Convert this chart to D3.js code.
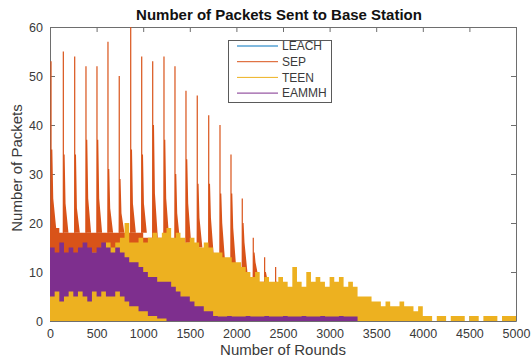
<!DOCTYPE html>
<html>
<head>
<meta charset="utf-8">
<script src="https://cdn.jsdelivr.net/npm/d3@7"></script>
<style>
  body { margin: 0; background: #fff; }
  text { font-family: "Liberation Sans", Arial, sans-serif; }
</style>
</head>
<body>
<script>
const w = 532;
const h = 363;

const plotLeft = 50;
const plotRight = 516;
const plotTop = 27;
const plotBottom = 321;

// rounds per bin of the envelope arrays below (dense per-round lines are shown as min/max bands)
const binRounds = 50;
const sepBinRounds = 100;

const xTickValues = [0, 500, 1000, 1500, 2000, 2500, 3000, 3500, 4000, 4500, 5000];
const yTickValues = [0, 10, 20, 30, 40, 50, 60];

const seriesNames = ["LEACH", "SEP", "TEEN", "EAMMH"];
const seriesColors = ["#0072BD", "#D95319", "#EDB120", "#7E2F8E"];

// LEACH (0 - 800 rounds), mostly hidden under the others
const leachHigh = [17, 16, 15, 16, 15, 16, 15, 16, 15, 15, 18, 16, 15, 16, 15, 14];
const leachLow = [6, 6, 5, 6, 6, 5, 6, 6, 5, 6, 6, 5, 6, 6, 5, 6];

// SEP band between the epoch spikes (100-round bins, 0 - 2600)
const sepHigh = [19, 18, 18, 18, 18, 18, 18, 18, 18, 18, 17, 17, 17, 16, 16, 15, 14, 13, 12, 11, 10, 9, 8, 7, 6, 5];
const sepLow = [10, 10, 10, 10, 10, 10, 10, 9, 9, 9, 8, 8, 8, 7, 7, 6, 6, 5, 5, 4, 4, 3, 3, 2, 2, 1];

// SEP spikes at the start of each epoch, with the decaying values right after them
const spikeRounds = [11, 143, 265, 386, 504, 622, 743, 866, 984, 1102, 1223, 1341, 1459, 1580, 1703, 1824, 1942, 2063, 2181, 2303, 2421];
const spikeTop = [53, 55, 54, 52, 52, 57, 50, 62, 54, 53, 54, 52, 47, 46, 42, 40, 34, 25, 17, 13, 11];
const spikeMid = [35, 34, 34, 37, 37, 31, 29, 35, 34, 40, 37, 30, 33, 28, 28, 26, 26, 20, 14, 10, 8];
const spikeTail = [25, 24, 23, 25, 25, 23, 22, 24, 24, 26, 25, 22, 24, 21, 21, 20, 19, 16, 12, 9, 7];

// TEEN upper envelope (50-round bins, 0 - 5000); it drops to 0 inside every bin
const teenHigh = [
  11, 12, 10, 12, 11, 13, 12, 12, 13, 14, 13, 15, 16, 15, 16, 17,
  20, 16, 16, 17, 16, 17, 18, 17, 18, 19, 17, 18, 17, 16, 17, 16, 15, 16,
  15, 14, 14, 13, 13, 12, 12, 11,
  10, 9, 10, 8, 9, 8, 8, 9,
  8, 7, 11, 8, 7, 10, 8, 9, 8, 7,
  9, 8, 9, 7, 8, 7, 5, 5, 5, 4,
  4, 3, 4, 3, 3, 4, 3, 3, 2, 3,
  1, 1, 0, 1, 1, 0, 1, 1, 1, 0, 1, 1, 0, 1, 1, 1, 0, 1, 1, 1
];

// EAMMH envelope (50-round bins, 0 - 3300)
const eammhHigh = [
  15, 14, 16, 14, 15, 14, 15, 16, 15, 14, 15, 16, 15, 14, 15, 14,
  13, 12, 12, 11, 10, 9, 9, 8, 8, 8, 7, 6, 5, 5, 4, 3, 3, 2,
  2, 1, 0.9, 0.9, 1, 0.9, 0.9, 0.9, 1, 0.9, 0.9, 0.9, 1, 0.9, 0.9, 0.9,
  1, 0.9, 0.9, 0.9, 1, 0.9, 0.9, 0.9, 1, 0.9, 0.9, 0.9, 1, 0.9, 0.9, 0.9
];
const eammhLow = [
  5, 6, 4, 5, 6, 5, 6, 5, 4, 6, 5, 6, 5, 5, 6, 5,
  4, 3, 3, 2, 2, 1, 1, 0.5, 0.5, 0, 0, 0, 0, 0, 0, 0, 0, 0,
  0, 0, 0, 0, 0, 0, 0, 0, 0, 0, 0, 0, 0, 0, 0, 0,
  0, 0, 0, 0, 0, 0, 0, 0, 0, 0, 0, 0, 0, 0, 0, 0
];

const svg = d3.select("body").append("svg").attr("width", w).attr("height", h);

const xScale = d3.scaleLinear().domain([0, 5000]).range([plotLeft, plotRight]);
const yScale = d3.scaleLinear().domain([0, 60]).range([plotBottom, plotTop]);

svg.append("defs").append("clipPath").attr("id", "plotClip")
  .append("rect")
  .attr("x", plotLeft).attr("y", plotTop)
  .attr("width", plotRight - plotLeft).attr("height", plotBottom - plotTop);

const axisColor = "#6e6e6e";
const textColor = "#3a3a3a";

// axes go under the data, like MATLAB's default layer
function addAxes() {
  const xBottom = svg.append("g").attr("transform", "translate(0," + plotBottom + ")")
    .call(d3.axisBottom(xScale).tickValues(xTickValues).tickFormat(d3.format("d"))
      .tickSizeInner(-5).tickSizeOuter(0).tickPadding(8));
  const xTop = svg.append("g").attr("transform", "translate(0," + plotTop + ")")
    .call(d3.axisTop(xScale).tickValues(xTickValues).tickSizeInner(-5).tickSizeOuter(0).tickFormat(""));
  const yLeft = svg.append("g").attr("transform", "translate(" + plotLeft + ",0)")
    .call(d3.axisLeft(yScale).tickValues(yTickValues).tickSizeInner(-5).tickSizeOuter(0).tickPadding(7));
  const yRight = svg.append("g").attr("transform", "translate(" + plotRight + ",0)")
    .call(d3.axisRight(yScale).tickValues(yTickValues).tickSizeInner(-5).tickSizeOuter(0).tickFormat(""));

  [xBottom, xTop, yLeft, yRight].forEach(function (g) {
    g.select(".domain").attr("stroke", axisColor);
    g.selectAll(".tick line").attr("stroke", axisColor);
    g.selectAll("text")
      .attr("fill", textColor)
      .style("font-family", "'Liberation Sans', Arial, sans-serif")
      .style("font-size", "12.5px");
  });
}

addAxes();

const dataGroup = svg.append("g").attr("clip-path", "url(#plotClip)");

function toBins(high, low, size) {
  const pts = high.map(function (v, i) {
    return { r: i * size, hi: v, lo: low ? low[i] : 0 };
  });
  pts.push({ r: high.length * size, hi: high[high.length - 1], lo: low ? low[low.length - 1] : 0 });
  return pts;
}

const band = d3.area()
  .curve(d3.curveStepAfter)
  .x(function (d) { return xScale(d.r); })
  .y0(function (d) { return yScale(d.lo); })
  .y1(function (d) { return yScale(d.hi); });

// LEACH
dataGroup.append("path")
  .attr("d", band(toBins(leachHigh, leachLow, binRounds)))
  .attr("fill", seriesColors[0]);

// SEP
dataGroup.append("path")
  .attr("d", band(toBins(sepHigh, sepLow, sepBinRounds)))
  .attr("fill", seriesColors[1]);

const tailLine = d3.line()
  .x(function (d) { return xScale(d[0]); })
  .y(function (d) { return yScale(d[1]); });

spikeRounds.forEach(function (r, i) {
  const base = sepHigh[Math.min(Math.floor(r / sepBinRounds), sepHigh.length - 1)];
  const tail = [[r - 4, base], [r, spikeMid[i]], [r + 14, spikeMid[i]], [r + 24, spikeTail[i]], [r + 55, base]];
  dataGroup.append("path")
    .attr("d", tailLine(tail) + "Z")
    .attr("fill", seriesColors[1]);
  dataGroup.append("line")
    .attr("x1", xScale(r)).attr("x2", xScale(r))
    .attr("y1", yScale(base)).attr("y2", yScale(spikeTop[i]))
    .attr("stroke", seriesColors[1])
    .attr("stroke-width", 1.2);
});

// TEEN
dataGroup.append("path")
  .attr("d", band(toBins(teenHigh, null, binRounds)))
  .attr("fill", seriesColors[2]);

// EAMMH
dataGroup.append("path")
  .attr("d", band(toBins(eammhHigh, eammhLow, binRounds)))
  .attr("fill", seriesColors[3]);

// titles
svg.append("text")
  .attr("x", 279).attr("y", 20)
  .attr("text-anchor", "middle")
  .attr("fill", "#111")
  .style("font-size", "15px")
  .style("font-weight", "bold")
  .text("Number of Packets Sent to Base Station");

svg.append("text")
  .attr("x", 283).attr("y", 354.5)
  .attr("text-anchor", "middle")
  .attr("fill", textColor)
  .style("font-size", "15px")
  .text("Number of Rounds");

svg.append("text")
  .attr("transform", "translate(21.5,168)rotate(-90)")
  .attr("text-anchor", "middle")
  .attr("fill", textColor)
  .style("font-size", "15px")
  .text("Number of Packets");

// legend
const legend = svg.append("g");
legend.append("rect")
  .attr("x", 228.5).attr("y", 40.5)
  .attr("width", 103).attr("height", 62)
  .attr("fill", "#fff")
  .attr("stroke", "#5a5a5a");

seriesNames.forEach(function (name, i) {
  const ly = 46 + i * 15.7;
  legend.append("line")
    .attr("x1", 237).attr("x2", 278)
    .attr("y1", ly).attr("y2", ly)
    .attr("stroke", seriesColors[i])
    .attr("stroke-width", 1);
  legend.append("text")
    .attr("x", 282).attr("y", ly + 4.3)
    .attr("fill", textColor)
    .style("font-size", "12px")
    .text(name);
});
</script>
</body>
</html>
